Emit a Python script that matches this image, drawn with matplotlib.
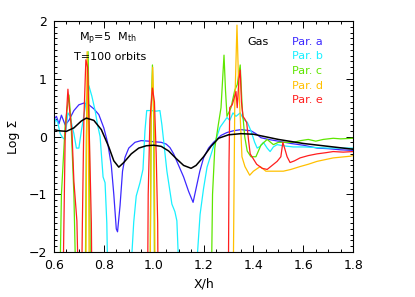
import matplotlib
matplotlib.use("Agg")
import matplotlib.pyplot as plt
from matplotlib.ticker import MultipleLocator

plt.rcParams['font.family'] = ['DejaVu Sans']

# Gas (black)
gas_x = [0.60, 0.62, 0.65, 0.68, 0.71, 0.73, 0.76, 0.79, 0.82, 0.84, 0.86, 0.88, 0.91, 0.94,
         0.97, 1.00, 1.03, 1.06, 1.09, 1.12, 1.15, 1.17, 1.20, 1.23, 1.26, 1.30, 1.35, 1.40,
         1.50, 1.60, 1.70, 1.80]
gas_y = [0.12, 0.10, 0.09, 0.15, 0.27, 0.32, 0.28, 0.12, -0.18, -0.42, -0.53, -0.45, -0.30, -0.20,
         -0.16, -0.15, -0.17, -0.25, -0.38, -0.50, -0.55, -0.50, -0.35, -0.17, -0.03, 0.03, 0.05, 0.04,
         -0.05, -0.12, -0.17, -0.22]

# Par. a (blue)
a_x = [0.60, 0.61, 0.62, 0.63, 0.645, 0.66, 0.68, 0.70, 0.72, 0.74, 0.76, 0.78, 0.80, 0.815,
       0.83, 0.84, 0.85, 0.855, 0.865, 0.875, 0.885, 0.90, 0.925, 0.95, 0.98, 1.00, 1.03, 1.05,
       1.065, 1.08, 1.10, 1.12, 1.14, 1.158, 1.17, 1.185, 1.20, 1.22, 1.24, 1.27, 1.294, 1.32,
       1.35, 1.39, 1.41, 1.43, 1.46, 1.50, 1.55, 1.60, 1.656, 1.70, 1.75, 1.80]
a_y = [0.30, 0.35, 0.22, 0.37, 0.20, 0.28, 0.45, 0.55, 0.58, 0.55, 0.48, 0.38, 0.15, -0.10,
       -0.50, -1.00, -1.60, -1.65, -1.20, -0.60, -0.36, -0.20, -0.10, -0.07, -0.08, -0.09, -0.10, -0.13,
       -0.19, -0.30, -0.50, -0.70, -0.95, -1.14, -0.90, -0.60, -0.37, -0.20, -0.10, 0.02, 0.07, 0.10,
       0.12, 0.10, 0.05, -0.02, -0.05, -0.08, -0.12, -0.15, -0.20, -0.21, -0.23, -0.24]

# Par. b (cyan)
b_x = [0.60, 0.605, 0.615, 0.625, 0.635, 0.644, 0.656, 0.665, 0.672, 0.68, 0.69, 0.70, 0.71,
       0.725, 0.74, 0.752, 0.765, 0.775, 0.785, 0.797, 0.805, 0.812, 0.818, 0.91, 0.913, 0.92,
       0.93, 0.945, 0.957, 0.965, 0.972, 0.99, 1.01, 1.025, 1.033, 1.04, 1.053, 1.073, 1.085,
       1.093, 1.098, 1.10, 1.172, 1.176, 1.186, 1.20, 1.214, 1.238, 1.266, 1.294, 1.305, 1.318,
       1.33, 1.347, 1.36, 1.375, 1.39, 1.405, 1.415, 1.427, 1.44, 1.455, 1.467, 1.48, 1.495,
       1.52, 1.56, 1.60, 1.70, 1.80]
b_y = [0.10, 0.30, 0.25, 0.05, -0.02, -0.05, 0.41, 0.35, 0.20, 0.05, -0.20, -0.20, 0.10,
       0.50, 0.88, 0.70, 0.45, 0.20, 0.00, -0.70, -0.80, -1.50, -3.0, -3.0, -2.0, -1.48,
       -1.03, -0.80, -0.57, 0.10, 0.45, 0.45, 0.44, 0.45, 0.20, -0.08, -0.60, -1.17, -1.30,
       -1.46, -2.0, -3.0, -3.0, -2.0, -1.35, -0.90, -0.53, -0.20, 0.16, 0.33, 0.28, 0.41,
       0.35, 0.41, 0.30, 0.25, 0.10, -0.10, -0.20, -0.17, -0.10, -0.20, -0.26, -0.18, -0.14,
       -0.16, -0.18, -0.18, -0.20, -0.20]

# Par. c (green)
c_x = [0.60, 0.622, 0.630, 0.645, 0.660, 0.668, 0.680, 0.690, 0.725, 0.730, 0.737, 0.742, 0.747,
       0.985, 0.990, 0.995, 1.000, 1.004, 1.230, 1.236, 1.245, 1.259, 1.270, 1.282, 1.288, 1.294,
       1.310, 1.325, 1.335, 1.347, 1.355, 1.365, 1.375, 1.390, 1.410, 1.430, 1.455, 1.480, 1.500,
       1.560, 1.590, 1.620, 1.650, 1.680, 1.720, 1.750, 1.800]
c_y = [-3.0, -3.0, -1.0, 0.20, 0.72, 0.30, -1.0, -3.0, -3.0, 0.0, 1.47, 0.0, -3.0,
       -3.0, 0.50, 1.24, 0.30, -3.0, -3.0, -1.0, -0.20, 0.20, 0.50, 1.41, 0.80, 0.35,
       0.50, 0.80, 0.90, 1.24, 0.50, 0.00, -0.25, -0.35, -0.35, -0.15, -0.05, -0.14, -0.10,
       -0.10, -0.07, -0.05, -0.08, -0.05, -0.03, -0.04, -0.03]

# Par. d (yellow)
d_x = [0.60, 0.727, 0.733, 0.738, 0.742, 0.985, 0.990, 0.996, 1.002, 1.006, 1.318, 1.325, 1.334,
       1.340, 1.347, 1.354, 1.366, 1.385, 1.400, 1.427, 1.450, 1.520, 1.550, 1.587, 1.620, 1.655,
       1.720, 1.790, 1.800]
d_y = [-3.0, -3.0, 1.47, 0.20, -3.0, -3.0, 0.40, 1.20, 0.20, -3.0, -3.0, 0.50, 1.93,
       1.00, 0.35, -0.35, -0.52, -0.67, -0.60, -0.52, -0.60, -0.60, -0.57, -0.52, -0.48, -0.43,
       -0.37, -0.34, -0.33]

# Par. e (red)
e_x = [0.60, 0.635, 0.645, 0.656, 0.664, 0.672, 0.680, 0.692, 0.700, 0.710, 0.714, 0.720, 0.728,
       0.735, 0.742, 0.750, 0.753, 0.975, 0.978, 0.985, 0.995, 1.003, 1.010, 1.016, 1.018, 1.299,
       1.302, 1.305, 1.315, 1.325, 1.330, 1.335, 1.342, 1.347, 1.352, 1.358, 1.366, 1.373, 1.380,
       1.387, 1.413, 1.435, 1.455, 1.475, 1.495, 1.510, 1.518, 1.525, 1.535, 1.547, 1.565, 1.587,
       1.620, 1.655, 1.690, 1.720, 1.760, 1.800]
e_y = [-3.0, -3.0, 0.0, 0.82, 0.40, 0.10, -0.78, -1.46, -3.0, -3.0, -1.5, 0.30, 1.33,
       1.20, 0.0, -1.5, -3.0, -3.0, -1.0, 0.30, 0.84, 0.60, -0.30, -1.5, -3.0, -3.0,
       -0.50, 0.50, 0.55, 0.70, 0.78, 0.50, 1.00, 1.15, 0.60, 0.35, 0.30, 0.24, -0.05,
       -0.30, -0.48, -0.55, -0.57, -0.50, -0.43, -0.35, -0.10, -0.20, -0.35, -0.45, -0.42, -0.37,
       -0.33, -0.30, -0.28, -0.26, -0.27, -0.26]

labels = ["Par. a", "Par. b", "Par. c", "Par. d", "Par. e"]
colors = ["#3c28ff", "#19f0ff", "#5ee600", "#ffc000", "#ff1e1e"]

fig = plt.figure(figsize=(4.15, 2.97), dpi=100)
ax = fig.add_axes([0.130, 0.1515, 0.721, 0.7775])

series = [(a_x, a_y), (b_x, b_y), (c_x, c_y), (d_x, d_y), (e_x, e_y)]
for (xs, ys), col in zip(series, colors):
    ax.plot(xs, ys, color=col, lw=0.9)
ax.plot(gas_x, gas_y, color="black", lw=1.1)

ax.set_xlim(0.6, 1.8)
ax.set_ylim(-2, 2)
ax.xaxis.set_major_locator(MultipleLocator(0.2))
ax.xaxis.set_minor_locator(MultipleLocator(0.05))
ax.yaxis.set_major_locator(MultipleLocator(1))
ax.yaxis.set_minor_locator(MultipleLocator(0.1))
ax.tick_params(which="both", direction="in", top=True, right=True, labelsize=9, width=0.7)
ax.tick_params(which="major", length=5, pad=5)
ax.tick_params(which="minor", length=2.5)
for s in ax.spines.values():
    s.set_linewidth(0.8)

ax.set_xlabel("X/h", fontsize=9, labelpad=4)
ax.set_ylabel("Log Σ", fontsize=9, labelpad=6)

ax.text(0.817, 1.69, r"M$_\mathregular{p}$=5  M$_\mathregular{th}$", fontsize=8, ha="center", va="center")
ax.text(0.827, 1.38, "T=100 orbits", fontsize=8, ha="center", va="center")

ax.text(1.419, 1.64, "Gas", fontsize=8, color="black", ha="center", va="center")
for i, (lab, col) in enumerate(zip(labels, colors)):
    ax.text(1.615, 1.64 - i * 0.253, lab, fontsize=8, color=col, ha="center", va="center")

fig.savefig("out.png", dpi=100)
